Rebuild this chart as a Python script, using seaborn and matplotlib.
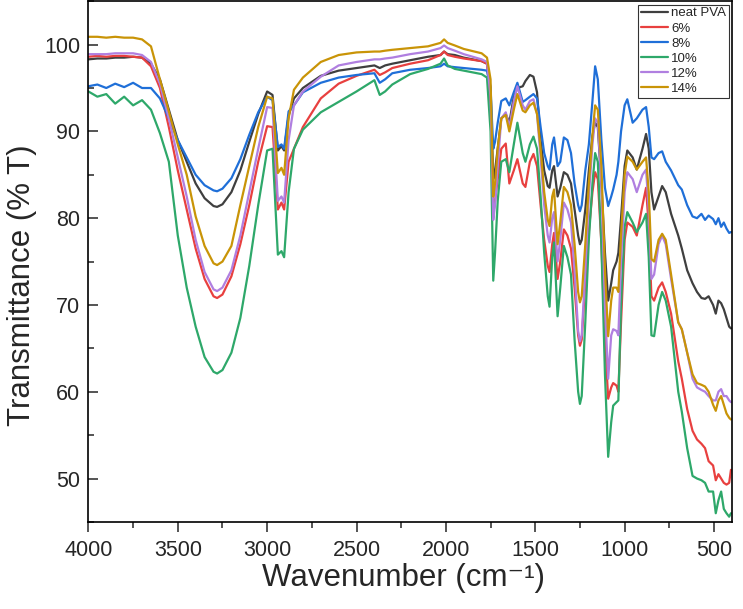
import pandas as pd
import numpy as np
import seaborn as sns
import matplotlib.pyplot as plt
from matplotlib.ticker import MultipleLocator

# Wavenumber grid (cm-1) and transmittance (%T)
wavenumber = [
    4000, 3950, 3900, 3850, 3800, 3750, 3700, 3650, 3600, 3550, 3500, 3450, 3400, 3350,
    3300, 3280, 3250, 3200, 3150, 3100, 3050, 3000, 2970, 2940, 2920, 2905, 2880, 2850,
    2800, 2700, 2600, 2500, 2400, 2370, 2340, 2300, 2200, 2100, 2030, 2010, 1990, 1950,
    1900, 1800, 1770, 1750, 1735, 1725, 1710, 1690, 1665, 1645, 1620, 1600, 1570, 1555,
    1530, 1510, 1490, 1470, 1450, 1430, 1420, 1405, 1395, 1375, 1360, 1340, 1320, 1300,
    1280, 1260, 1250, 1240, 1220, 1200, 1180, 1165, 1150, 1130, 1110, 1092, 1075, 1064,
    1045, 1035, 1020, 1000, 985, 955, 932, 900, 880, 865, 850, 835, 810, 790, 770, 740,
    700, 680, 650, 620, 595, 570, 550, 530, 505, 490, 475, 460, 445, 430, 415, 405,
]

neat_pva = [
    98.3, 98.4, 98.4, 98.5, 98.5, 98.6, 98.5, 97.8, 96.0, 92.5, 89.0, 86.5, 84.0, 82.3,
    81.4, 81.3, 81.6, 83.0, 85.5, 88.8, 92.0, 94.6, 94.2, 87.8, 88.3, 87.8, 91.8, 93.8,
    95.0, 96.4, 97.0, 97.3, 97.6, 97.3, 97.6, 97.8, 98.2, 98.6, 98.8, 99.2, 98.9, 98.8,
    98.5, 98.1, 97.8, 95.0, 84.5, 85.5, 88.0, 91.5, 92.0, 91.0, 94.0, 95.0, 95.2, 95.8,
    96.5, 96.3, 94.5, 89.0, 85.5, 83.7, 83.5, 85.5, 86.0, 82.5, 83.5, 85.3, 85.0, 84.0,
    81.0, 78.0, 77.0, 77.5, 81.0, 85.5, 89.5, 91.0, 90.5, 84.0, 76.0, 70.5, 72.5, 74.0,
    75.0, 76.0, 80.0, 86.0, 87.8, 87.0, 85.6, 88.0, 89.7, 88.0, 83.0, 81.0, 82.5, 83.7,
    83.0, 80.5, 78.0, 76.5, 74.0, 72.5, 71.5, 70.8, 70.7, 71.0, 70.0, 69.0, 70.5, 70.2,
    69.5, 68.5, 67.5, 67.3,
]

pva_6 = [
    98.6, 98.7, 98.6, 98.7, 98.7, 98.6, 98.5, 97.5, 95.0, 90.5, 85.5, 81.0, 76.5, 73.0,
    71.0, 70.8, 71.2, 73.3, 77.0, 81.5, 86.5, 90.6, 90.5, 81.0, 81.8, 81.0, 86.5, 88.0,
    90.5, 93.8, 95.5, 96.4, 97.1, 96.5, 96.8, 97.3, 97.8, 98.2, 98.8, 99.2, 98.8, 98.6,
    98.4, 98.1, 97.8, 93.0, 80.5, 82.0, 84.5, 88.0, 88.6, 84.0, 85.5, 86.8, 84.0, 83.6,
    86.5, 87.4, 86.0, 81.5, 77.5, 74.5, 73.8, 77.0, 78.3, 73.0, 75.0, 78.7, 78.0, 76.5,
    72.0, 66.5, 65.3, 66.0, 72.5, 78.5, 83.0, 85.3, 84.5, 77.0, 66.0, 59.2, 60.5, 61.0,
    60.7, 60.0, 68.0, 77.5, 79.5, 79.0, 78.0, 81.5, 83.5, 79.0, 71.0, 70.5, 72.0, 72.6,
    71.5, 69.0, 63.5, 61.5, 58.0, 55.5, 54.5, 54.0, 53.5, 52.0, 51.5, 49.8, 50.5, 50.0,
    49.5, 49.3, 49.5, 51.0,
]

pva_8 = [
    95.2, 95.4, 95.0, 95.5, 95.1, 95.6, 95.0, 95.0, 93.8, 91.5, 89.0, 87.0, 85.0, 83.8,
    83.2, 83.1, 83.4, 84.6, 86.8, 89.6, 92.2, 94.0, 93.6, 88.2, 88.5, 88.0, 92.3, 93.0,
    94.5, 95.6, 96.2, 96.5, 96.7, 95.6, 96.0, 96.7, 97.1, 97.3, 97.5, 97.8, 97.5, 97.4,
    97.3, 97.1, 97.0, 95.0, 88.0, 88.8, 91.0, 93.5, 93.8, 93.0, 94.5, 95.6, 93.4, 93.6,
    94.0, 94.3, 93.8, 90.5, 87.5, 86.0, 85.6, 88.5, 89.3, 86.0, 86.5, 89.3, 89.0, 87.5,
    84.0, 81.5, 80.8, 81.5, 85.5, 88.5, 93.5, 97.5, 96.0, 89.0, 83.5, 81.4, 82.5, 83.3,
    85.0, 86.5, 90.0, 93.0, 93.7, 91.0, 91.5, 92.5, 92.8, 90.5, 87.0, 86.8, 87.5, 87.7,
    86.5, 85.5, 83.8, 83.3, 81.5, 80.2, 80.0, 80.5, 79.8, 80.3, 79.9, 79.3, 80.0, 79.0,
    79.5, 78.8, 78.3, 78.4,
]

pva_10 = [
    94.6, 94.0, 94.3, 93.2, 94.0, 93.0, 93.6, 92.5, 89.8, 86.5, 78.0, 72.0, 67.5, 64.0,
    62.3, 62.1, 62.5, 64.5, 68.5, 74.5, 81.5, 87.8, 88.0, 75.8, 76.2, 75.5, 83.0, 88.0,
    90.2, 92.2, 93.4, 94.6, 95.9, 94.2, 94.6, 95.4, 96.6, 97.2, 97.8, 98.4, 97.6, 97.2,
    97.0, 96.6, 96.2, 90.0, 72.8, 76.0, 82.0, 86.5, 86.8, 85.3, 88.5, 91.0, 87.5, 86.5,
    88.5, 89.4, 88.0, 82.5, 76.0, 71.0, 69.8, 75.5, 77.2, 68.7, 72.0, 76.8, 75.5, 73.5,
    66.0, 60.0, 58.6, 59.5, 68.0, 77.5, 84.0, 87.5, 86.5, 77.0, 62.0, 52.5, 56.5, 58.4,
    58.8, 59.0, 70.0, 79.0, 80.7, 79.5, 78.4, 79.5, 80.5, 75.5, 66.5, 66.4, 70.0, 71.5,
    70.5, 67.5, 60.0, 57.7, 53.5, 50.3, 50.0, 49.8, 49.5, 48.5, 48.5, 46.0, 47.5, 48.5,
    46.5, 46.0, 45.6, 46.0,
]

pva_12 = [
    98.9, 98.9, 98.9, 99.0, 99.0, 99.0, 98.8, 98.0, 95.5, 91.5, 87.0, 82.5, 77.5, 73.8,
    71.8, 71.6, 72.0, 74.0, 78.0, 83.0, 88.0, 92.8, 92.7, 82.0, 82.5, 81.8, 89.0, 93.0,
    94.6, 96.3, 97.6, 98.0, 98.3, 98.3, 98.4, 98.5, 98.9, 99.2, 99.6, 99.9, 99.6, 99.3,
    98.9, 98.3, 98.0, 94.0, 79.8, 81.5, 86.0, 91.5, 92.2, 90.5, 93.5, 95.2, 93.0, 92.5,
    93.5, 93.7, 92.0, 87.0, 81.5, 78.0, 77.2, 80.0, 80.7, 75.0, 77.5, 81.8, 81.0, 79.5,
    74.0, 67.0, 65.8, 66.5, 74.0, 82.5, 88.5, 91.5, 91.0, 84.0, 70.0, 61.5, 66.5, 67.2,
    67.0, 66.5, 75.0, 83.0, 85.3, 84.5, 83.0, 85.0, 85.6, 81.0, 73.0, 73.5, 77.0, 78.0,
    77.0, 73.0, 68.0, 67.2, 64.5, 61.5, 60.5, 60.2, 60.0, 59.5, 59.0, 59.0, 60.0, 60.3,
    59.5, 59.5, 59.0, 58.8,
]

pva_14 = [
    100.9, 100.9, 100.8, 100.9, 100.8, 100.8, 100.6, 99.8, 96.0, 92.3, 88.5, 85.0, 80.2, 76.8,
    74.8, 74.6, 75.0, 76.8, 81.5, 86.0, 90.5, 94.0, 93.8, 85.2, 85.8, 85.0, 91.5, 94.8,
    96.2, 98.0, 98.8, 99.1, 99.2, 99.2, 99.3, 99.4, 99.6, 99.8, 100.2, 100.6, 100.2, 99.9,
    99.5, 99.0, 98.5, 96.0, 82.5, 84.0, 88.0, 91.5, 91.9, 90.0, 92.5, 94.3, 92.4, 92.2,
    93.0, 93.3, 92.0, 88.0, 83.0, 79.8, 79.1, 82.5, 83.3, 77.0, 79.5, 83.6, 83.0, 81.5,
    77.0, 71.5, 70.3, 71.0, 77.0, 84.0, 89.5, 93.0, 92.5, 86.0, 74.0, 66.4, 70.5, 72.0,
    72.0, 71.5, 78.0, 85.0, 87.1, 86.5, 85.6, 86.5, 87.0, 83.0, 75.3, 75.0, 77.5, 78.2,
    77.5, 73.5, 68.0, 67.2, 64.5, 62.0, 61.0, 60.8, 60.6, 60.0, 58.5, 57.8, 59.0, 59.5,
    58.5, 57.5, 57.0, 56.8,
]

samples = ["neat PVA", "6%", "8%", "10%", "12%", "14%"]
colors = ["#3f3f3f", "#e8403f", "#1f6fd8", "#2ea86a", "#b07fe0", "#c99407"]

df = pd.concat([
    pd.DataFrame({"wavenumber": wavenumber, "T": vals, "sample": name})
    for name, vals in zip(samples, [neat_pva, pva_6, pva_8, pva_10, pva_12, pva_14])
])

sns.set_style("ticks")
plt.rcParams["font.family"] = ["Liberation Sans", "DejaVu Sans"]

fig = plt.figure(figsize=(7.43, 6.09), dpi=100)
ax = fig.add_axes([0.119, 0.143, 0.866, 0.855])

sns.lineplot(data=df, x="wavenumber", y="T", hue="sample", hue_order=samples,
             palette=dict(zip(samples, colors)), estimator=None, linewidth=1.6, ax=ax)

ax.set_xlim(4000, 400)
ax.set_ylim(45, 105)
ax.xaxis.set_major_locator(MultipleLocator(500))
ax.xaxis.set_minor_locator(MultipleLocator(250))
ax.yaxis.set_major_locator(MultipleLocator(10))
ax.yaxis.set_minor_locator(MultipleLocator(5))
ax.tick_params(axis="x", which="major", direction="out", length=7, width=1.1, labelsize=15.5, pad=6)
ax.tick_params(axis="x", which="minor", direction="out", length=4, width=1.1)
ax.tick_params(axis="y", which="major", direction="in", length=7, width=1.1, labelsize=15.5, pad=6)
ax.tick_params(axis="y", which="minor", direction="in", length=4, width=1.1)
for s in ax.spines.values():
    s.set_linewidth(1.2)
    s.set_color("black")

ax.set_xlabel("Wavenumber (cm\u207b\u00b9)", fontsize=22.5)
ax.xaxis.set_label_coords(0.489, -0.078)
ax.set_ylabel("Transmittance (% T)", fontsize=22.5)
ax.yaxis.set_label_coords(-0.080, 0.455)

leg = ax.legend(loc="upper right", frameon=True, fancybox=False, edgecolor="black",
                fontsize=9.5, handlelength=2.1, borderpad=0.2, labelspacing=0.22,
                handletextpad=0.2, borderaxespad=0.25)
leg.get_frame().set_linewidth(0.8)

plt.savefig("out.png", dpi=100)
plt.close()
